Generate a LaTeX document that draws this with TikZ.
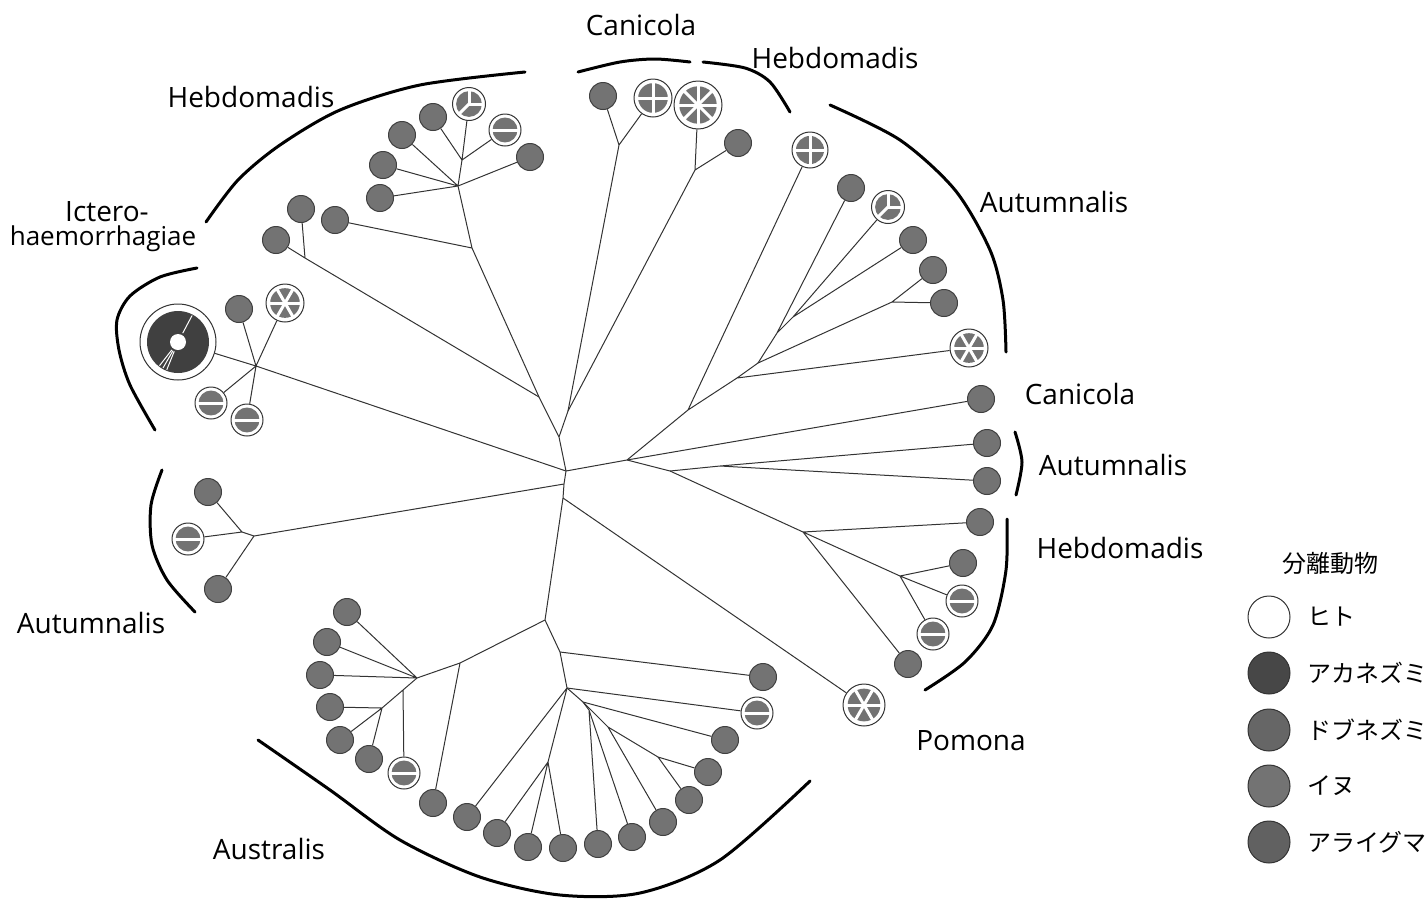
\documentclass[tikz,border=0pt]{standalone}
\usepackage{fontspec}
\setmainfont{Open Sans}
\newfontfamily\jpfont{Noto Sans CJK JP}
\usepackage{tikz}
\usetikzlibrary{calc}

\definecolor{leafgray}{gray}{0.45}

\begin{document}
\begin{tikzpicture}[x=0.5pt,y=-0.5pt,
	br/.style={black!80,line width=0.5pt},
	bracket/.style={line width=1.5pt,line cap=round},
	leaf/.style={circle,draw=black!75,fill=leafgray,line width=0.5pt,inner sep=0pt,minimum size=13.5pt},
	pie/.style 2 args={circle,draw=black!80,fill=white,line width=0.5pt,inner sep=0pt,minimum size=#1,
		path picture={
			\fill[leafgray] (path picture bounding box.center) circle[radius=0.39*#1];
			\foreach \a in {#2}
				\draw[white,line width=1.5pt] (path picture bounding box.center) -- ++(\a:#1);}},
	big/.style={circle,draw=black!80,fill=white,line width=0.5pt,inner sep=0pt,minimum size=38pt,
		path picture={
			\fill[black!75] (path picture bounding box.center) circle[radius=15.5pt];
			\fill[white] (path picture bounding box.center) circle[radius=4pt];
			\foreach \a in {232,240,248,62}
				\draw[white,line width=0.5pt] (path picture bounding box.center) ++(\a:5pt) -- ++(\a:10pt);}},
	lab/.style={font=\fontsize{14}{16}\selectfont},
	jp/.style={font=\fontsize{12}{14}\selectfont\jpfont},
	key/.style={circle,draw=black!80,line width=0.5pt,inner sep=0pt,minimum size=21pt}]
\useasboundingbox (0,0) rectangle (1428,900);

%tronc
\coordinate (T1) at (559,437);
\coordinate (O) at (566,471);
\coordinate (T2) at (564,484);
\coordinate (T3) at (563,498);
\coordinate (N1) at (539,397);
\coordinate (N2) at (568,411);
\coordinate (N4) at (627,460);
\coordinate (N5) at (545,620);
\draw[br] (N1)--(T1) (N2)--(T1) (T1)--(O) (O)--(N4) (O)--(T2)--(T3)--(N5);

\begin{scope} %Hebdomadis haut gauche
	\node[leaf] (HA) at (301,209) {};
	\node[leaf] (HB) at (335,220) {};
	\node[leaf] (HC) at (276,240) {};
	\node[leaf] (HD) at (380,198) {};
	\node[leaf] (HE) at (383,165) {};
	\node[leaf] (HF) at (402,135) {};
	\node[leaf] (HG) at (433,117) {};
	\node[pie={16.5pt}{90,0,225}] (HH) at (469,104) {};
	\node[pie={16pt}{0,180}] (HI) at (505,130) {};
	\node[leaf] (HJ) at (530,157) {};
	\coordinate (H1) at (462,160);
	\coordinate (H2) at (458,186);
	\coordinate (H3) at (472,248);
	\coordinate (H4) at (305,258);
	\draw[br] (H1)--(HH) (H1)--(HI) (H1)--(HG);
	\draw[br] (H2)--(H1) (H2)--(HF) (H2)--(HE) (H2)--(HD) (H2)--(HJ);
	\draw[br] (H3)--(H2) (H3)--(HB) (N1)--(H3);
	\draw[br] (H4)--(HA) (H4)--(HC) (N1)--(H4);
\end{scope}

\begin{scope} %Canicola haut
	\node[leaf] (CA) at (603,96) {};
	\node[pie={19pt}{0,90,180,270}] (CB) at (653,98) {};
	\node[pie={24pt}{0,45,...,315}] (CC) at (698,105) {};
	\node[leaf] (CD) at (738,143) {};
	\coordinate (C1) at (619,145);
	\coordinate (C2) at (695,170);
	\draw[br] (C1)--(CA) (C1)--(CB) (N2)--(C1);
	\draw[br] (C2)--(CC) (C2)--(CD) (N2)--(C2);
\end{scope}

\begin{scope} %Icterohaemorrhagiae
	\node[big] (IA) at (178,342) {};
	\node[leaf] (IB) at (239,309) {};
	\node[pie={19pt}{0,60,...,300}] (IC) at (285,303) {};
	\node[pie={16pt}{0,180}] (ID) at (211,403) {};
	\node[pie={16pt}{0,180}] (IE) at (247,420) {};
	\coordinate (I1) at (256,366);
	\draw[br] (I1)--(IA) (I1)--(IB) (I1)--(IC) (I1)--(ID) (I1)--(IE) (I1)--(O);
\end{scope}

\begin{scope} %Autumnalis gauche
	\node[leaf] (LA) at (208,492) {};
	\node[pie={16pt}{0,180}] (LB) at (188,539) {};
	\node[leaf] (LC) at (218,589) {};
	\coordinate (L1) at (242,532);
	\coordinate (L2) at (254,536);
	\draw[br] (L1)--(LA) (L1)--(LB) (L2)--(L1) (L2)--(LC) (L2)--(T2);
\end{scope}

\begin{scope} %Autumnalis haut droite
	\node[pie={18pt}{0,90,180,270}] (AA) at (810,150) {};
	\node[leaf] (AB) at (851,188) {};
	\node[pie={16.5pt}{90,0,225}] (AC) at (888,207) {};
	\node[leaf] (AD) at (913,240) {};
	\node[leaf] (AE) at (933,270) {};
	\node[leaf] (AF) at (944,303) {};
	\node[pie={19pt}{0,60,...,300}] (AG) at (969,348) {};
	\coordinate (A1) at (688,410);
	\coordinate (A2) at (737,378);
	\coordinate (A3) at (758,363);
	\coordinate (A4) at (777,333);
	\coordinate (A5) at (793,317);
	\coordinate (A6) at (892,302);
	\draw[br] (N4)--(A1) (A1)--(AA) (A1)--(A2) (A2)--(AG) (A2)--(A3);
	\draw[br] (A3)--(A4) (A4)--(AB) (A4)--(A5) (A5)--(AC) (A5)--(AD);
	\draw[br] (A3)--(A6) (A6)--(AE) (A6)--(AF);
\end{scope}

\begin{scope} %Canicola, Autumnalis, Hebdomadis a droite
	\node[leaf] (KA) at (981,399) {};
	\node[leaf] (RA) at (987,443) {};
	\node[leaf] (RB) at (987,481) {};
	\node[leaf] (EA) at (980,522) {};
	\node[leaf] (EB) at (963,563) {};
	\node[pie={16pt}{0,180}] (EC) at (962,601) {};
	\node[pie={16pt}{0,180}] (ED) at (933,634) {};
	\node[leaf] (EE) at (908,664) {};
	\coordinate (R1) at (670,471);
	\coordinate (R2) at (720,466);
	\coordinate (R3) at (803,532);
	\coordinate (R4) at (900,576);
	\draw[br] (N4)--(KA) (N4)--(R1) (R1)--(R2) (R2)--(RA) (R2)--(RB);
	\draw[br] (R1)--(R3) (R3)--(EA) (R3)--(R4) (R3)--(EE);
	\draw[br] (R4)--(EB) (R4)--(EC) (R4)--(ED);
\end{scope}

%Pomona
\node[pie={21pt}{0,60,...,300}] (PA) at (864,705) {};
\draw[br] (T3)--(PA);

\begin{scope} %Australis
	\node[leaf] (UA) at (347,612) {};
	\node[leaf] (UB) at (327,642) {};
	\node[leaf] (UC) at (320,675) {};
	\node[leaf] (UD) at (330,707) {};
	\node[leaf] (UE) at (340,740) {};
	\node[leaf] (UF) at (369,759) {};
	\node[pie={16pt}{0,180}] (UG) at (404,773) {};
	\node[leaf] (UH) at (433,803) {};
	\node[leaf] (UI) at (467,817) {};
	\node[leaf] (UJ) at (497,833) {};
	\node[leaf] (UK) at (528,847) {};
	\node[leaf] (UL) at (563,848) {};
	\node[leaf] (UM) at (598,844) {};
	\node[leaf] (UN) at (632,837) {};
	\node[leaf] (UO) at (663,822) {};
	\node[leaf] (UP) at (689,800) {};
	\node[leaf] (UQ) at (708,772) {};
	\node[leaf] (UR) at (725,740) {};
	\node[pie={16pt}{0,180}] (US) at (757,713) {};
	\node[leaf] (UT) at (763,677) {};
	\coordinate (B1) at (560,652);
	\coordinate (B2) at (567,688);
	\coordinate (B3) at (583,702);
	\coordinate (B4) at (548,762);
	\coordinate (B5) at (608,727);
	\coordinate (B6) at (589,710);
	\coordinate (B7) at (658,757);
	\coordinate (B8) at (460,663);
	\coordinate (B9) at (417,678);
	\coordinate (B10) at (382,708);
	\coordinate (B11) at (403,690);
	\draw[br] (N5)--(B8) (B8)--(UH) (B8)--(B9) (B9)--(UA) (B9)--(UB) (B9)--(UC);
	\draw[br] (B9)--(B11)--(B10) (B11)--(UG) (B10)--(UD) (B10)--(UE) (B10)--(UF);
	\draw[br] (N5)--(B1) (B1)--(UT) (B1)--(B2) (B2)--(US) (B2)--(UI) (B2)--(B4);
	\draw[br] (B4)--(UJ) (B4)--(UK) (B4)--(UL);
	\draw[br] (B2)--(B3) (B3)--(UR) (B3)--(B6) (B6)--(UM) (B6)--(UN);
	\draw[br] (B3)--(B5) (B5)--(UO) (B5)--(B7) (B7)--(UP) (B7)--(UQ);
\end{scope}

%accolades
\draw[bracket] plot[smooth] coordinates {(197,268) (160,277) (130,296) (117,320) (119,350) (130,385) (155,430)};
\draw[bracket] plot[smooth] coordinates {(162,470) (151,505) (152,545) (167,580) (195,612)};
\draw[bracket] plot[smooth] coordinates {(206,222) (238,180) (280,145) (340,110) (420,85) (525,72)};
\draw[bracket] plot[smooth] coordinates {(578,72) (620,62) (655,59) (690,62)};
\draw[bracket] plot[smooth] coordinates {(703,62) (745,68) (770,82) (790,112)};
\draw[bracket] plot[smooth] coordinates {(830,105) (900,140) (955,190) (990,250) (1003,300) (1006,352)};
\draw[bracket] plot[smooth] coordinates {(1015,432) (1022,462) (1016,495)};
\draw[bracket] plot[smooth] coordinates {(1007,519) (1006,570) (993,625) (965,662) (925,690)};
\draw[bracket] plot[smooth] coordinates {(258,740) (330,790) (400,840) (480,877) (560,895) (640,893) (720,860) (810,781)};

%noms
\node[lab] (nCan1) at (641,25) {Canicola};
\node[lab] (nHeb1) at (835,58) {Hebdomadis};
\node[lab] (nHeb2) at (251,97) {Hebdomadis};
\node[lab] (nAut1) at (1054,202) {Autumnalis};
\node[lab,inner sep=0pt] (nIct1) at (107,212) {Ictero-};
\node[lab,inner sep=0pt,font=\fontsize{13}{15}\selectfont] (nIct2) at (103,239) {haemorrhagiae};
\node[lab] (nCan2) at (1080,394) {Canicola};
\node[lab] (nAut2) at (1113,465) {Autumnalis};
\node[lab] (nHeb3) at (1120,548) {Hebdomadis};
\node[lab] (nAut3) at (91,623) {Autumnalis};
\node[lab] (nPom) at (971,741) {Pomona};
\node[lab] (nAus) at (269,849) {Australis};

%legende
\node[jp] (LT) at (1330,563) {分離動物};
\node[key,fill=white] (K1) at (1269,617) {};
\node[key,fill=black!72] (K2) at (1269,673) {};
\node[key,fill=black!60] (K3) at (1269,730) {};
\node[key,fill=black!55] (K4) at (1269,786) {};
\node[key,fill=black!62] (K5) at (1269,842) {};
\node[jp,anchor=west] (L1) at (1300,617) {ヒト};
\node[jp,anchor=west] (L2) at (1300,673) {アカネズミ};
\node[jp,anchor=west] (L3) at (1300,730) {ドブネズミ};
\node[jp,anchor=west] (L4) at (1300,786) {イヌ};
\node[jp,anchor=west] (L5) at (1300,842) {アライグマ};
\end{tikzpicture}
\end{document}
